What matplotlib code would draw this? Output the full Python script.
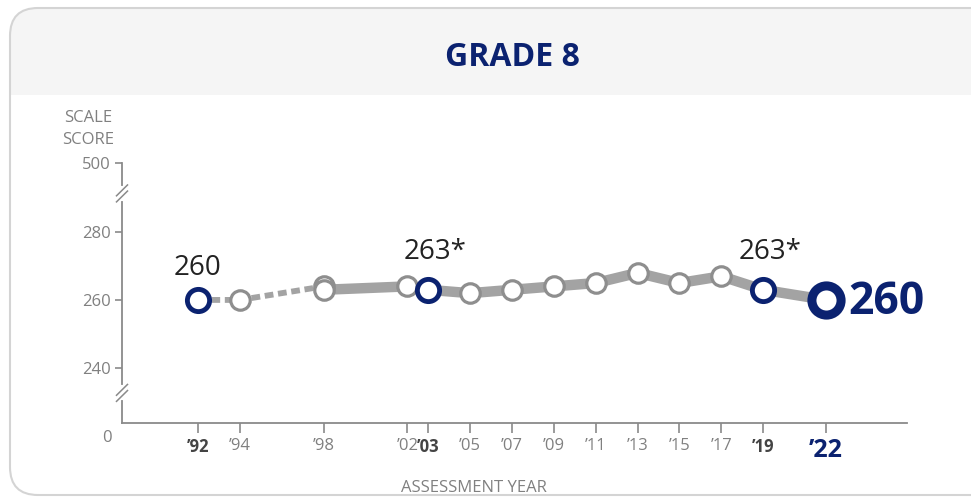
import matplotlib.pyplot as plt
from matplotlib.patches import FancyBboxPatch, Rectangle
from matplotlib.transforms import blended_transform_factory

plt.rcParams['font.family'] = ['Open Sans', 'DejaVu Sans']

# accommodations not permitted
early_years = [1992, 1994, 1998]
early_scores = [260, 260, 264]
# accommodations permitted
years = [1998, 2002, 2003, 2005, 2007, 2009, 2011, 2013, 2015, 2017, 2019, 2022]
scores = [263, 264, 263, 262, 263, 264, 265, 268, 265, 267, 263, 260]

tick_years = [1992, 1994, 1998, 2002, 2003, 2005, 2007, 2009, 2011, 2013, 2015, 2017, 2019, 2022]
tick_labels = ["’92", "’94", "’98", "’02", "’03", "’05", "’07", "’09", "’11", "’13",
               "’15", "’17", "’19", "’22"]
bold_years = [1992, 2003, 2019]
callouts = {1992: "260", 2003: "263*", 2019: "263*"}
y_ticks = [240, 260, 280, 300.5]
y_tick_labels = ["240", "260", "280", "500"]

NAVY = '#0b2270'
LINE = '#a3a3a3'
EDGE = '#8e8e8e'
TXT = '#808080'

fig = plt.figure(figsize=(9.71, 5.0), dpi=100)

# card background in pixel coordinates
bg = fig.add_axes([0, 0, 1, 1])
bg.set_xlim(0, 971)
bg.set_ylim(500, 0)
bg.axis('off')
card = FancyBboxPatch((10, 8), 1000, 487, boxstyle="round,pad=0,rounding_size=28",
                      facecolor='white', edgecolor='none')
bg.add_patch(card)
header = Rectangle((0, 0), 1000, 95, facecolor='#f5f5f5', edgecolor='none')
bg.add_patch(header)
header.set_clip_path(card)
bg.add_patch(FancyBboxPatch((10, 8), 1000, 487, boxstyle="round,pad=0,rounding_size=28",
                            facecolor='none', edgecolor='#d4d4d4', linewidth=1.5))
bg.text(512, 58, "GRADE 8", ha='center', va='center', fontsize=23,
        fontweight='bold', color=NAVY)
bg.text(88, 129, "SCALE\nSCORE", ha='center', va='center', fontsize=12,
        color=TXT, linespacing=1.5)
bg.text(474, 488, "ASSESSMENT YEAR", ha='center', va='center', fontsize=12, color=TXT)

# main chart
ax = fig.add_axes([122 / 971, 77 / 500, 785 / 971, 260 / 500])
ax.patch.set_alpha(0)
ax.set_xlim(1988.37, 2025.87)
ax.set_ylim(223.6, 300.5)

ax.plot(early_years, early_scores, color=LINE, lw=4.2, ls=(0, (1.5, 0.8)),
        solid_capstyle='butt', zorder=2)
ax.plot(years, scores, color=LINE, lw=7.5, solid_joinstyle='miter', zorder=2)

all_years = early_years + years
all_scores = early_scores + scores
for yr, sc in zip(all_years, all_scores):
    if yr == 2022:
        ax.plot(yr, sc, 'o', ms=21, mfc='white', mec=NAVY, mew=6.5, zorder=5)
    elif yr in bold_years:
        ax.plot(yr, sc, 'o', ms=16, mfc='white', mec=NAVY, mew=3.5, zorder=4)
    else:
        ax.plot(yr, sc, 'o', ms=14, mfc='white', mec=EDGE, mew=2.3, zorder=3)

for yr, txt in callouts.items():
    sc = all_scores[all_years.index(yr)]
    dx = 0 if not txt.endswith('*') else 5
    dy = 18 if yr == 1992 else 22
    ax.annotate(txt, (yr, sc), xytext=(dx, dy), textcoords='offset points',
                ha='center', va='baseline', fontsize=20, color='#222222')
ax.annotate(str(scores[-1]), (years[-1], scores[-1]), xytext=(16, -2),
            textcoords='offset points', ha='left', va='center', fontsize=32,
            fontweight='bold', color=NAVY)

# axes styling
for s in ['top', 'right']:
    ax.spines[s].set_visible(False)
for s in ['left', 'bottom']:
    ax.spines[s].set_color('#8a8a8a')
    ax.spines[s].set_linewidth(1.3)

ax.set_yticks(y_ticks, y_tick_labels)
ax.tick_params(axis='y', length=5, width=1.2, color='#8a8a8a', labelsize=12,
               labelcolor=TXT, pad=3)
ax.set_xticks(tick_years, tick_labels)
ax.tick_params(axis='x', length=7, width=1.2, color='#8a8a8a', labelsize=12,
               labelcolor=TXT, pad=4)
for yr, lab in zip(tick_years, ax.get_xticklabels()):
    if yr == 2022:
        lab.set_fontsize(18)
        lab.set_fontweight('bold')
        lab.set_color(NAVY)
    elif yr in bold_years:
        lab.set_fontweight('bold')
        lab.set_color('#444444')

# "0" label at the axis base
ax.text(-0.013, -0.058, "0", transform=ax.transAxes, ha='right', va='center',
        fontsize=12, color=TXT)

# axis break marks
trans = blended_transform_factory(ax.transAxes, ax.transData)
for yb in [291.5, 232.5]:
    ax.plot([0, 0], [yb - 1.6, yb + 1.6], color='white', lw=3, transform=trans,
            clip_on=False, zorder=6)
    for d in [-0.9, 0.9]:
        ax.plot([-0.007, 0.007], [yb + d - 1.6, yb + d + 1.6], color='#8a8a8a',
                lw=1.1, transform=trans, clip_on=False, zorder=7)

fig.savefig('out.png', dpi=100)
